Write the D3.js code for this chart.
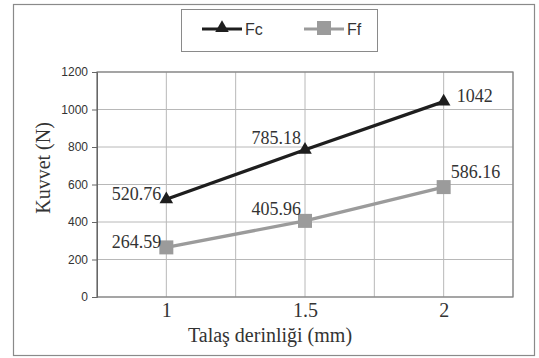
<!DOCTYPE html>
<html>
<head>
<meta charset="utf-8">
<script src="https://cdn.jsdelivr.net/npm/d3@7"></script>
<style>
  body { margin: 0; background: #fff; }
  svg { display: block; }
  .ytick text { font-family: Arial, "Liberation Sans", sans-serif; font-size: 12px; fill: #333; }
  .xtick text { font-family: "Liberation Serif", "Times New Roman", serif; font-size: 20px; fill: #333; }
  .axis-label { font-family: "Liberation Serif", "Times New Roman", serif; font-size: 20px; fill: #333; }
  .value-label { font-family: "Liberation Serif", "Times New Roman", serif; font-size: 18px; fill: #333; }
  .legend text { font-family: Arial, "Liberation Sans", sans-serif; font-size: 16px; fill: #333; }
</style>
</head>
<body>
<div id="chart"></div>
<script>
const WIDTH = 539;
const HEIGHT = 358;
const PLOT = { LEFT: 97, RIGHT: 513, TOP: 72, BOTTOM: 297 };

// data
const depths = [1, 1.5, 2];
const fcValues = [520.76, 785.18, 1042];
const ffValues = [264.59, 405.96, 586.16];
const yTicks = [0, 200, 400, 600, 800, 1000, 1200];
const xTickLabels = [1, 1.5, 2];
const xGrid = [0.75, 1, 1.25, 1.5, 1.75, 2, 2.25];

const series = [
    { name: 'Fc', values: fcValues, color: '#1e1e1e', marker: 'triangle',
      labelPos: ['left', 'aboveleft', 'right'] },
    { name: 'Ff', values: ffValues, color: '#9b9b9b', marker: 'square',
      labelPos: ['left', 'aboveleft', 'aboveright'] }
];

let svg = d3.select('#chart')
    .append('svg')
    .attr('width', WIDTH)
    .attr('height', HEIGHT);

svg.append('rect')
    .attr('width', WIDTH).attr('height', HEIGHT)
    .attr('fill', '#fff');

// outer frame
svg.append('rect')
    .attr('x', 13.5).attr('y', 4.5)
    .attr('width', 521).attr('height', 351)
    .attr('fill', 'none')
    .attr('stroke', '#8a8a8a')
    .attr('stroke-width', 1.2);

let x = d3.scaleLinear().domain([0.75, 2.25]).range([PLOT.LEFT, PLOT.RIGHT]);
let y = d3.scaleLinear().domain([0, 1200]).range([PLOT.BOTTOM, PLOT.TOP]);

// grid
let grid = svg.append('g').attr('class', 'grid');
grid.selectAll('.hgrid')
    .data(yTicks)
    .enter().append('line')
    .attr('x1', PLOT.LEFT).attr('x2', PLOT.RIGHT)
    .attr('y1', d => y(d)).attr('y2', d => y(d))
    .attr('stroke', '#b8b8b8').attr('stroke-width', 1);
grid.selectAll('.vgrid')
    .data(xGrid)
    .enter().append('line')
    .attr('x1', d => x(d)).attr('x2', d => x(d))
    .attr('y1', PLOT.TOP).attr('y2', PLOT.BOTTOM)
    .attr('stroke', '#b8b8b8').attr('stroke-width', 1);

// plot frame
svg.append('rect')
    .attr('x', PLOT.LEFT).attr('y', PLOT.TOP)
    .attr('width', PLOT.RIGHT - PLOT.LEFT).attr('height', PLOT.BOTTOM - PLOT.TOP)
    .attr('fill', 'none')
    .attr('stroke', '#808080').attr('stroke-width', 1.2);

// y axis
let yAxis = d3.axisLeft(y).tickValues(yTicks).tickSize(5).tickPadding(4)
    .tickFormat(d3.format('d'));
svg.append('g')
    .attr('class', 'ytick')
    .attr('transform', `translate(${PLOT.LEFT},0)`)
    .call(yAxis)
    .call(g => g.select('.domain').attr('stroke', '#666'))
    .call(g => g.selectAll('line').attr('stroke', '#666'));

// x axis (labels only)
let xAxis = d3.axisBottom(x).tickValues(xTickLabels).tickSize(0).tickPadding(6)
    .tickFormat(d => String(d));
svg.append('g')
    .attr('class', 'xtick')
    .attr('transform', `translate(0,${PLOT.BOTTOM})`)
    .call(xAxis)
    .call(g => g.select('.domain').remove());

// axis titles
svg.append('text')
    .attr('class', 'axis-label')
    .attr('x', 270)
    .attr('y', 342)
    .attr('text-anchor', 'middle')
    .text('Talaş derinliği (mm)');

svg.append('text')
    .attr('class', 'axis-label')
    .attr('transform', 'translate(50,168) rotate(-90)')
    .attr('text-anchor', 'middle')
    .text('Kuvvet (N)');

// lines + markers
let line = d3.line().x((d, i) => x(depths[i])).y(d => y(d));

function drawMarker(g, type, cx, cy, color) {
    if (type === 'triangle') {
        g.append('path')
            .attr('d', d3.symbol().type(d3.symbolTriangle).size(80)())
            .attr('transform', `translate(${cx},${cy})`)
            .attr('fill', color);
    } else {
        g.append('rect')
            .attr('x', cx - 7).attr('y', cy - 7)
            .attr('width', 14).attr('height', 14)
            .attr('fill', color);
    }
}

series.forEach(s => {
    let g = svg.append('g');
    g.append('path')
        .datum(s.values)
        .attr('d', line)
        .attr('fill', 'none')
        .attr('stroke', s.color)
        .attr('stroke-width', 3.2);
    s.values.forEach((v, i) => {
        let cx = x(depths[i]), cy = y(v);
        drawMarker(g, s.marker, cx, cy, s.color);
        let pos = s.labelPos[i];
        let lx = cx, ly = cy, anchor = 'start';
        if (pos === 'left') { lx = cx - 5; ly = cy + 1; anchor = 'end'; }
        else if (pos === 'aboveleft') { lx = cx - 4; ly = cy - 6; anchor = 'end'; }
        else if (pos === 'right') { lx = cx + 13; ly = cy; anchor = 'start'; }
        else if (pos === 'aboveright') { lx = cx + 7; ly = cy - 9; anchor = 'start'; }
        g.append('text')
            .attr('class', 'value-label')
            .attr('x', lx).attr('y', ly)
            .attr('text-anchor', anchor)
            .text(String(v));
    });
});

// legend
let legend = svg.append('g').attr('class', 'legend');
legend.append('rect')
    .attr('x', 181.5).attr('y', 9.5)
    .attr('width', 196).attr('height', 42)
    .attr('fill', '#fff')
    .attr('stroke', '#8a8a8a').attr('stroke-width', 1);

const legendX = [202, 304];
series.forEach((s, i) => {
    let lx = legendX[i];
    legend.append('line')
        .attr('x1', lx).attr('x2', lx + 40)
        .attr('y1', 29).attr('y2', 29)
        .attr('stroke', s.color).attr('stroke-width', 3);
    drawMarker(legend, s.marker, lx + 20, 28, s.color);
    legend.append('text')
        .attr('x', lx + 43).attr('y', 35)
        .text(s.name);
});
</script>
</body>
</html>
